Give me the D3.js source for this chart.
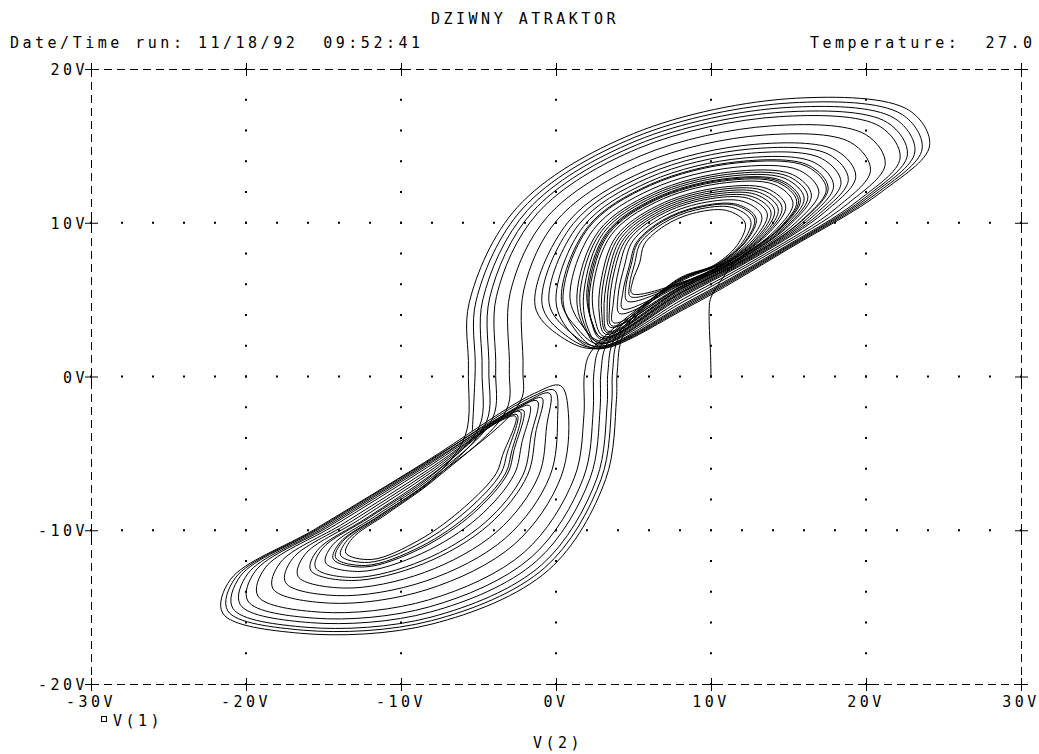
<!DOCTYPE html>
<html>
<head>
<meta charset="utf-8">
<script src="https://cdn.jsdelivr.net/npm/d3@7"></script>
<style>
  body { margin: 0; background: #fff; }
  text { font-family: "DejaVu Sans Mono", monospace; font-size: 15px; fill: #000; letter-spacing: 3.5px; white-space: pre; }
</style>
</head>
<body>
<div id="graph01"></div>
<script>
// 軸の目盛りとラベル
const xTicks = [-30, -20, -10, 0, 10, 20, 30];
const yTicks = [-20, -10, 0, 10, 20];
const xTickLabels = ["-30V", "-20V", "-10V", "0V", "10V", "20V", "30V"];
const yTickLabels = ["-20V", "-10V", "0V", "10V", "20V"];
const gridX = [-20, -10, 0, 10, 20];
const gridY = [-10, 0, 10];
const titleText = "DZIWNY ATRAKTOR";
const dateText = "Date/Time run: 11/18/92  09:52:41";
const tempText = "Temperature:  27.0";
const xName = "V(2)";
const seriesName = "V(1)";

// 軌道 [V(2), V(1)] 
const start = [[10.0,0.0],[9.97,1.5],[9.9,3.0],[9.88,4.2],[9.95,5.0],[10.3,5.7]];
const upper1 = [
  [11.71,7.60],[14.56,9.69],[15.77,11.5],[14.54,12.75],[10.81,12.85],[6.40,11.60],[3.24,9.32],[2.0,5.65],
  [2.3,3.6],[3.0,2.5],[8.12,5.49],[12.42,7.75],[15.94,10.19],[17.56,12.25],[16.31,13.73],[11.82,13.98],[6.10,12.50],[2.01,9.68],[0.35,4.95],
  [1.4,3.1],[2.8,2.1],[8.28,5.08],[13.50,7.98],[18.06,10.94],[20.29,13.4],[19.02,15.22],[13.36,15.70],[5.64,13.88],[0.12,10.23],[-2.08,5.63],[-2.13,0.5],[-2.3,-1.63]
];
const lower1 = [
  [-7.87,-6.59],[-11.27,-9.00],[-13.80,-10.77],[-14.21,-11.80],[-12.27,-12.29],[-8.72,-11.06],[-5.45,-8.82],[-3.28,-6.34],[-2.85,-4.83],
  [-2.3,-2.3],[-3.6,-2.8],[-8.01,-6.37],[-12.21,-9.20],[-15.40,-11.31],[-15.83,-12.60],[-13.21,-13.27],[-8.56,-12.18],[-4.35,-9.66],[-1.84,-6.42],[-1.3,-3.6],
  [-0.9,-1.4],[-2.4,-2.0],[-8.30,-5.91],[-14.18,-9.62],[-18.76,-12.44],[-19.23,-14.28],[-15.18,-15.33],[-8.22,-14.53],[-2.04,-11.42],[1.18,-6.59],[1.80,-2.54],[1.85,0.3],[2.3,1.67]
];
const upper2 = [
  [7.84,6.19],[10.58,7.36],[12.35,8.90],[12.91,10.30],[11.71,11.19],[9.20,11.05],[6.88,10.16],[5.21,8.74],[4.74,7.24],
  [4.3,5.4],[4.3,4.4],[7.94,5.94],[11.24,7.50],[13.64,9.36],[14.58,11.0],[13.36,12.10],[10.14,12.10],[6.60,11.00],[4.06,9.08],[3.1,6.35],
  [2.95,4.1],[3.3,2.85],[8.04,5.69],[11.90,7.64],[14.93,9.82],[16.25,11.7],[15.01,13.01],[11.08,13.15],[6.32,11.84],[2.91,9.42],[1.55,5.4],
  [1.9,3.2],[2.75,2.0],[8.33,4.93],[13.87,8.06],[18.79,11.21],[21.24,13.8],[19.97,15.74],[13.89,16.30],[5.48,14.36],[-0.53,10.42],[-2.96,5.42],[-3.01,0.5],[-3.2,-2.18]
];
const lower2 = [
  [-7.81,-6.68],[-10.89,-8.92],[-13.16,-10.55],[-13.56,-11.48],[-11.89,-11.90],[-8.78,-10.61],[-5.89,-8.48],[-3.86,-6.31],[-3.45,-5.13],
  [-2.6,-2.6],[-3.8,-3.0],[-8.08,-6.26],[-12.68,-9.30],[-16.20,-11.58],[-16.64,-13.00],[-13.68,-13.76],[-8.48,-12.74],[-3.80,-10.08],[-1.12,-6.46],[-0.6,-3.2],
  [-0.4,-1.1],[-2.0,-1.7],[-8.36,-5.82],[-14.56,-9.70],[-19.40,-12.66],[-19.88,-14.60],[-15.56,-15.72],[-8.16,-14.98],[-1.60,-11.76],[1.76,-6.62],[2.40,-2.24],[2.45,0.3],[2.9,1.99]
];
const upper3 = [
  [7.88,6.08],[10.86,7.42],[12.90,9.10],[13.63,10.6],[12.42,11.58],[9.60,11.50],[6.76,10.52],[4.72,8.89],[4.08,7.09],
  [3.7,4.8],[3.7,3.5],[7.98,5.83],[11.52,7.56],[14.19,9.56],[15.29,11.3],[14.07,12.49],[10.54,12.55],[6.48,11.36],[3.57,9.22],[2.4,5.9],
  [2.5,3.8],[3.1,2.6],[8.08,5.58],[12.18,7.70],[15.48,10.02],[16.96,12.0],[15.72,13.40],[11.48,13.60],[6.20,12.20],[2.42,9.56],[0.9,5.15],
  [1.7,3.3],[2.9,2.3],[8.16,5.36],[12.74,7.82],[16.58,10.42],[18.39,12.6],[17.14,14.18],[12.28,14.50],[5.96,12.92],[1.44,9.85],[-0.45,4.8],
  [0.9,2.9],[2.75,1.95],[8.39,4.79],[14.25,8.14],[19.53,11.47],[22.20,14.2],[20.91,16.26],[14.43,16.90],[5.32,14.84],[-1.19,10.62],[-3.84,5.22],[-3.89,0.5],[-4.1,-2.74]
];
const lower3 = [
  [-7.93,-6.50],[-11.65,-9.08],[-14.44,-10.99],[-14.86,-12.12],[-12.65,-12.68],[-8.66,-11.51],[-5.01,-9.16],[-2.70,-6.37],[-2.2,-4.3],
  [-1.7,-1.9],[-3.0,-2.4],[-8.40,-5.75],[-14.84,-9.76],[-19.88,-12.82],[-20.37,-14.84],[-15.84,-16.01],[-8.11,-15.32],[-1.27,-12.01],[2.19,-6.64],[2.85,-2.02],[2.9,0.3],[3.35,2.24]
];
const upper4 = [
  [7.82,6.25],[10.44,7.33],[12.08,8.80],[12.56,10.15],[11.35,11.00],[9.00,10.83],[6.94,9.98],[5.45,8.67],[5.07,7.32],
  [4.75,6.0],[4.8,5.2],[7.91,6.01],[11.05,7.46],[13.27,9.23],[14.10,10.8],[12.89,11.84],[9.87,11.80],[6.68,10.76],[4.39,8.98],[3.55,6.7],
  [3.3,4.4],[3.5,3.2],[8.00,5.78],[11.66,7.59],[14.47,9.66],[15.65,11.45],[14.42,12.69],[10.74,12.78],[6.42,11.54],[3.32,9.30],[2.1,5.7],
  [2.3,3.6],[3.0,2.5],[8.11,5.51],[12.37,7.74],[15.85,10.15],[17.44,12.2],[16.19,13.66],[11.75,13.90],[6.12,12.44],[2.09,9.66],[0.45,5.0],
  [1.3,2.95],[2.7,1.9],[8.42,4.72],[14.44,8.18],[19.90,11.60],[22.67,14.4],[21.38,16.52],[14.70,17.20],[5.24,15.08],[-1.52,10.71],[-4.28,5.11],[-4.33,0.5],[-4.5,-2.99]
];
const lower4 = [
  [-7.84,-6.63],[-11.08,-8.96],[-13.48,-10.66],[-13.89,-11.64],[-12.08,-12.09],[-8.75,-10.84],[-5.67,-8.65],[-3.57,-6.32],[-3.15,-4.98],
  [-2.5,-2.5],[-3.7,-2.9],[-8.15,-6.15],[-13.15,-9.40],[-17.00,-11.85],[-17.45,-13.40],[-14.15,-14.25],[-8.40,-13.30],[-3.25,-10.50],[-0.40,-6.50],[0.1,-2.8],
  [-0.1,-0.9],[-1.7,-1.4],[-8.44,-5.69],[-15.12,-9.82],[-20.36,-12.98],[-20.85,-15.08],[-16.12,-16.31],[-8.06,-15.65],[-0.94,-12.26],[2.62,-6.67],[3.30,-1.80],[3.35,0.3],[3.8,2.49]
];
const upper5 = [
  [7.86,6.14],[10.72,7.39],[12.63,9.00],[13.27,10.45],[12.06,11.39],[9.40,11.28],[6.82,10.34],[4.96,8.82],[4.41,7.17],
  [4.0,5.2],[4.1,4.1],[7.95,5.90],[11.33,7.52],[13.82,9.43],[14.82,11.1],[13.60,12.23],[10.27,12.25],[6.56,11.12],[3.90,9.13],[2.9,6.2],
  [2.8,4.0],[3.2,2.75],[8.05,5.65],[11.99,7.66],[15.11,9.89],[16.48,11.8],[15.25,13.14],[11.21,13.30],[6.28,11.96],[2.75,9.46],[1.35,5.3],
  [1.8,3.2],[2.85,2.2],[8.19,5.29],[12.93,7.86],[16.95,10.55],[18.86,12.8],[17.61,14.44],[12.55,14.80],[5.88,13.16],[1.11,9.94],[-0.9,4.7],
  [0.6,2.7],[2.7,1.85],[8.44,4.64],[14.62,8.22],[20.26,11.74],[23.15,14.6],[21.86,16.78],[14.96,17.50],[5.16,15.32],[-1.84,10.81],[-4.72,5.01],[-4.77,0.5],[-4.95,-3.27]
];
const lower5 = [
  [-7.98,-6.41],[-12.02,-9.16],[-15.08,-11.20],[-15.51,-12.44],[-13.02,-13.07],[-8.59,-11.96],[-4.57,-9.49],[-2.13,-6.40],[-1.6,-3.8],
  [-1.2,-1.6],[-2.6,-2.1],[-8.47,-5.64],[-15.31,-9.86],[-20.68,-13.09],[-21.18,-15.24],[-16.31,-16.50],[-8.03,-15.88],[-0.72,-12.43],[2.91,-6.68],[3.60,-1.65],[3.65,0.3],[4.1,2.66]
];
const upper6 = [
  [7.8,6.3],[10.3,7.3],[11.8,8.7],[12.2,10.0],[11.0,10.8],[8.8,10.6],[7.0,9.8],[5.7,8.6],[5.4,7.4],
  [4.95,6.2],[4.9,5.4],[7.90,6.05],[10.96,7.44],[13.09,9.16],[13.87,10.7],[12.65,11.71],[9.74,11.65],[6.72,10.64],[4.55,8.94],[3.75,6.8],
  [3.45,4.5],[3.6,3.3],[8.00,5.80],[11.62,7.58],[14.38,9.62],[15.53,11.4],[14.30,12.62],[10.68,12.70],[6.44,11.48],[3.40,9.27],[2.2,5.75],
  [2.3,3.5],[2.95,2.4],[8.14,5.44],[12.56,7.78],[16.22,10.28],[17.91,12.4],[16.66,13.92],[12.02,14.20],[6.04,12.68],[1.76,9.75],[0.0,4.9],
  [1.0,2.8],[2.7,1.8],[8.5,4.5],[15.0,8.3],[21.0,12.0],[24.1,15.0],[22.8,17.3],[15.5,18.1],[5.0,15.8],[-2.5,11.0],[-5.6,4.8],[-5.65,0.5],[-5.85,-3.83]
];
const lower6 = [
  [-7.88,-6.57],[-11.36,-9.02],[-13.96,-10.82],[-14.37,-11.88],[-12.36,-12.39],[-8.70,-11.17],[-5.34,-8.90],[-3.14,-6.35],[-2.70,-4.76],
  [-2.1,-2.2],[-3.4,-2.7],[-8.22,-6.04],[-13.62,-9.50],[-17.80,-12.12],[-18.26,-13.80],[-14.62,-14.74],[-8.32,-13.86],[-2.70,-10.92],[0.32,-6.54],[0.8,-2.4],
  [0.3,-0.6],[-1.4,-1.1],[-8.5,-5.6],[-15.5,-9.9],[-21.0,-13.2],[-21.5,-15.4],[-16.5,-16.7],[-8.0,-16.1],[-0.5,-12.6],[3.2,-6.7],[3.9,-1.5],[3.95,0.3],[4.4,2.82]
];
const upper7 = [
  [7.84,6.21],[10.54,7.35],[12.26,8.87],[12.80,10.25],[11.59,11.13],[9.14,10.98],[6.90,10.10],[5.29,8.72],[4.85,7.27],
  [4.5,5.8],[4.6,4.9],[7.93,5.98],[11.15,7.48],[13.46,9.29],[14.34,10.9],[13.12,11.97],[10.01,11.95],[6.64,10.88],[4.22,9.03],[3.35,6.55],
  [3.1,4.2],[3.35,2.95],[8.02,5.72],[11.80,7.62],[14.74,9.76],[16.01,11.6],[14.78,12.88],[10.94,13.00],[6.36,11.72],[3.08,9.37],[1.8,5.5],
  [2.0,3.3],[2.8,2.15],[8.22,5.22],[13.12,7.90],[17.32,10.68],[19.34,13.0],[18.08,14.70],[12.82,15.10],[5.80,13.40],[0.78,10.04],[-1.35,4.6],
  [0.3,2.6],[2.7,1.8],[8.47,4.57],[14.81,8.26],[20.63,11.87],[23.62,14.8],[22.33,17.04],[15.23,17.80],[5.08,15.56],[-2.17,10.90],[-5.16,4.90],[-5.21,0.5],[-5.4,-3.55]
];

const trace = [start, upper1, lower1, upper2, lower2, upper3, lower3,
               upper4, lower4, upper5, lower5, upper6, lower6, upper7];

(function() {
    const svg = d3.select('#graph01').append('svg')
        .attr('width', 1039)
        .attr('height', 754);

    // 枠・目盛り・グリッド
    const scale = setupGraph(svg);

    // 軌道を描画
    drawLine(svg, trace.flat(), scale);

    // タイトルなどの文字
    drawTexts(svg, scale);
})();

function setupGraph(svg) {
    const left = 91, right = 1021, top = 69, bottom = 684;

    const xScale = d3.scaleLinear().domain([-30, 30]).range([left, right]);
    const yScale = d3.scaleLinear().domain([-20, 20]).range([bottom, top]);

    // 点線のグリッド (2Vごとの点)
    const g = svg.append('g').attr('class', 'grid');
    const yDots = d3.range(-20, 20.1, 2);
    const xDots = d3.range(-30, 30.1, 2);
    gridX.forEach(v => {
        yDots.forEach(w => {
            g.append('rect')
                .attr('x', xScale(v) - 1).attr('y', yScale(w) - 1)
                .attr('width', 2).attr('height', 2).attr('fill', '#000');
        });
    });
    gridY.forEach(w => {
        xDots.forEach(v => {
            g.append('rect')
                .attr('x', xScale(v) - 1).attr('y', yScale(w) - 1)
                .attr('width', 2).attr('height', 2).attr('fill', '#000');
        });
    });

    // 破線の枠
    const frame = svg.append('g').attr('stroke', '#000').attr('stroke-width', 1)
        .attr('stroke-dasharray', '8,5');
    frame.append('line').attr('x1', left).attr('x2', right).attr('y1', top + 0.5).attr('y2', top + 0.5);
    frame.append('line').attr('x1', left).attr('x2', right).attr('y1', bottom + 0.5).attr('y2', bottom + 0.5);
    frame.append('line').attr('x1', left + 0.5).attr('x2', left + 0.5).attr('y1', top).attr('y2', bottom);
    frame.append('line').attr('x1', right + 0.5).attr('x2', right + 0.5).attr('y1', top).attr('y2', bottom);

    // 十字の目盛り
    const ticks = svg.append('g').attr('stroke', '#000').attr('stroke-width', 1);
    const cross = (cx, cy) => {
        ticks.append('line').attr('x1', cx - 6).attr('x2', cx + 7).attr('y1', cy + 0.5).attr('y2', cy + 0.5);
        ticks.append('line').attr('x1', cx + 0.5).attr('x2', cx + 0.5).attr('y1', cy - 6).attr('y2', cy + 7);
    };
    xTicks.forEach(v => { cross(xScale(v), yScale(20)); cross(xScale(v), yScale(-20)); });
    yTicks.forEach(w => { cross(xScale(-30), yScale(w)); cross(xScale(30), yScale(w)); });

    // 軸ラベル
    xTicks.forEach((v, i) => {
        svg.append('text')
            .attr('x', xScale(v))
            .attr('y', bottom + 23)
            .attr('text-anchor', 'middle')
            .text(xTickLabels[i]);
    });
    yTicks.forEach((w, i) => {
        svg.append('text')
            .attr('x', left - 3)
            .attr('y', yScale(w) + 6)
            .attr('text-anchor', 'end')
            .text(yTickLabels[i]);
    });

    return { x: xScale, y: yScale };
}

function drawLine(svg, dataset, scale) {
    const line = d3.line()
        .x(d => scale.x(d[0]))
        .y(d => scale.y(d[1]))
        .curve(d3.curveCatmullRom.alpha(0.5));
    svg.append('path')
        .datum(dataset)
        .attr('fill', 'none')
        .attr('stroke', '#000')
        .attr('stroke-width', 1)
        .attr('d', line);
}

function drawTexts(svg, scale) {
    svg.append('text').attr('x', 431).attr('y', 24).text(titleText);
    svg.append('text').attr('x', 10).attr('y', 48).text(dateText);
    svg.append('text').attr('x', 810).attr('y', 48).text(tempText);

    // 凡例
    svg.append('rect')
        .attr('x', 101.5).attr('y', 716.5)
        .attr('width', 5).attr('height', 5)
        .attr('fill', 'none').attr('stroke', '#000').attr('stroke-width', 1);
    svg.append('text').attr('x', 113).attr('y', 726).text(seriesName);

    svg.append('text')
        .attr('x', scale.x(0) + 2)
        .attr('y', 748)
        .attr('text-anchor', 'middle')
        .text(xName);
}
</script>
</body>
</html>
